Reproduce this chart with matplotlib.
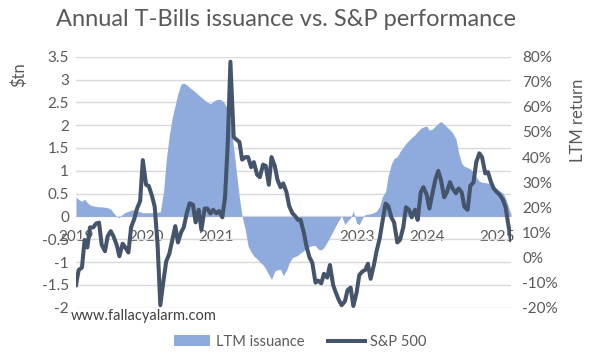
import pandas as pd
import matplotlib.pyplot as plt
import matplotlib.dates as mdates
from matplotlib.ticker import FuncFormatter, MultipleLocator

plt.rcParams['font.family'] = ['Lato', 'DejaVu Sans']

# semi-monthly points, Jan 2019 - Mar 2025
fechas = pd.date_range('2019-01-01', periods=150, freq='SMS')

# LTM T-Bills issuance ($tn)
emision = [
    0.43, 0.37, 0.33, 0.38, 0.30, 0.25, 0.23, 0.22, 0.21, 0.21,
    0.20, 0.19, 0.16, 0.08, 0.00, -0.03, 0.05, 0.09, 0.11, 0.14,
    0.15, 0.12, 0.10, 0.08, 0.08, 0.08, 0.08, 0.09, 0.09, 0.10,
    0.55, 1.24, 1.78, 2.14, 2.45, 2.70, 2.90, 2.92, 2.88, 2.82,
    2.77, 2.72, 2.66, 2.61, 2.55, 2.50, 2.47, 2.52, 2.56, 2.57,
    2.54, 2.46, 2.35, 2.05, 1.50, 0.98, 0.40, 0.00, -0.30, -0.65,
    -0.78, -0.87, -0.93, -1.00, -1.06, -1.15, -1.28, -1.38, -1.20, -1.17,
    -1.16, -1.30, -1.18, -1.02, -0.90, -0.88, -0.85, -0.80, -0.75, -0.70,
    -0.66, -0.64, -0.64, -0.72, -0.73, -0.68, -0.56, -0.45, -0.32, -0.20,
    -0.08, 0.02, -0.18, -0.10, -0.03, 0.12, -0.15, -0.18, -0.03, 0.04,
    0.05, 0.06, 0.08, 0.12, 0.22, 0.43, 0.55, 0.90, 1.15, 1.27,
    1.31, 1.42, 1.52, 1.60, 1.67, 1.73, 1.79, 1.86, 1.93, 1.96,
    1.98, 1.89, 1.92, 1.98, 2.04, 2.08, 2.02, 1.96, 1.90, 1.83,
    1.70, 1.40, 1.16, 1.10, 1.07, 1.04, 0.97, 0.86, 0.77, 0.75,
    0.74, 0.73, 0.72, 0.66, 0.60, 0.56, 0.51, 0.40, 0.22, 0.05,
]

# S&P 500 LTM return (%)
sp500 = [
    -11, -5, -4, 7, 4, 12, 12, 13.5, 13.9, 5,
    2.5, 8.5, 10.5, 8.5, 5, 0.5, 5.5, 4, 2, 12,
    15.5, 19.5, 22.5, 38.8, 29, 28.5, 24.5, 20.2, 5, -19,
    -9, -1.5, 1.5, 6.5, 12.5, 6, 10, 12, 18, 21.6,
    21, 14, 19, 11, 19.5, 19.5, 17.5, 19, 17.6, 18.5,
    16, 24, 45, 78, 48, 47, 46, 39, 40, 40,
    36, 38, 33, 32, 37, 36.5, 29, 40, 36.5, 31,
    28, 29.5, 26, 20.5, 17.6, 16.5, 15, 15, 10, 4.5,
    0, -2, -10, -9.2, -10.3, -6.5, -8, -3, -11, -14,
    -17, -19, -17.5, -13, -12, -19.3, -14, -7, -5.5, -5,
    -2.5, -8.5, -3, 2.5, 7.5, 14, 21.5, 20.5, 16, 14,
    6, 7, 12, 20, 19, 16, 19, 15, 26, 28,
    25, 19.5, 26, 31, 34.5, 31, 24, 26, 30, 27.5,
    25.6, 27.5, 26, 20.2, 19, 28.5, 30, 38, 41.5, 40,
    33.5, 34, 30, 27.5, 26, 25, 23, 20, 13, 7,
]

gris = '#595959'
fig = plt.figure(figsize=(5.89, 3.53), dpi=100)
ax = fig.add_axes([0.129, 0.1283, 0.7386, 0.7111])
ax2 = ax.twinx()

ax.fill_between(fechas, emision, 0, color='#8FAADC', linewidth=0, label='LTM issuance')
ax2.plot(fechas, sp500, color='#44546A', linewidth=2.9, label='S&P 500')

ax.set_ylim(-2, 3.5)
ax2.set_ylim(-20, 80)
ax.set_xlim(fechas[0], fechas[-1])
ax.yaxis.set_major_locator(MultipleLocator(0.5))
ax.yaxis.set_major_formatter(FuncFormatter(lambda v, p: f'{v:g}'))
ax2.yaxis.set_major_locator(MultipleLocator(10))
ax2.yaxis.set_major_formatter(FuncFormatter(lambda v, p: f'{v:.0f}%'))

ax.grid(axis='y', color='#D9D9D9', linewidth=1)
ax.set_axisbelow(True)
ax.xaxis.set_major_locator(mdates.YearLocator())
ax.xaxis.set_major_formatter(mdates.DateFormatter('%Y'))
ax.spines['bottom'].set_position(('data', 0))

for a in (ax, ax2):
    for s in a.spines.values():
        s.set_visible(False)
ax.tick_params(axis='both', length=0, labelsize=11, labelcolor=gris)
ax.tick_params(axis='y', pad=5)
ax.tick_params(axis='x', pad=10)
ax2.tick_params(axis='y', length=0, labelsize=11, labelcolor=gris, pad=8)

fig.suptitle('Annual T-Bills issuance vs. S&P performance', x=0.485, y=0.975,
             fontsize=17, color=gris)
fig.text(0.032, 0.79, '$tn', rotation=90, fontsize=12, color=gris, ha='center', va='center')
fig.text(0.981, 0.66, 'LTM return', rotation=90, fontsize=12, color=gris, ha='center', va='center')
fig.text(0.12, 0.105, 'www.fallacyalarm.com', fontsize=10.5, color='#404040', va='center')

h1, l1 = ax.get_legend_handles_labels()
h2, l2 = ax2.get_legend_handles_labels()
fig.legend(h1 + h2, l1 + l2, loc='center', bbox_to_anchor=(0.51, 0.032), ncol=2,
           frameon=False, fontsize=10.5, labelcolor=gris, handlelength=2.5,
           columnspacing=1.6, handletextpad=0.4)

fig.savefig('out.png', dpi=100)
